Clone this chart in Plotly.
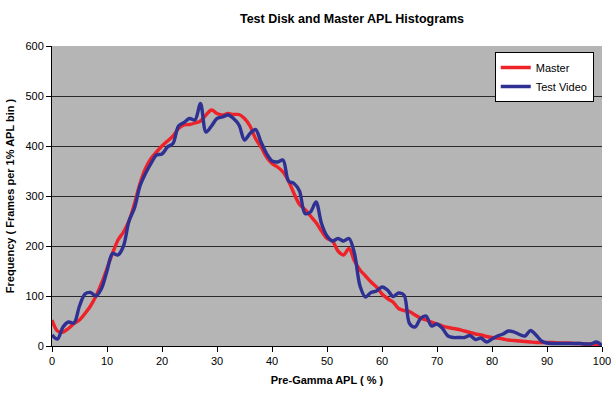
import plotly.graph_objects as go

apl = list(range(0, 101))

master = [52, 30, 28, 35, 45, 52, 65, 80, 100, 125,
          155, 185, 212, 228, 250, 285, 325, 355, 375, 388,
          400, 410, 420, 435, 442, 443, 446, 450, 462, 472,
          465, 462, 465, 463, 463, 455, 440, 415, 398, 378,
          365, 358, 348, 330, 305, 283, 273, 260, 247, 230,
          215, 210, 190, 182, 195, 170, 152, 140, 128, 118,
          104, 95, 88, 75, 71, 69, 62, 56, 52, 48,
          44, 40, 37, 35, 33, 30, 27, 24, 22, 19,
          17, 16, 14, 12, 11, 10, 9, 8, 7, 7,
          7, 7, 6, 6, 6, 5, 5, 4, 4, 3, 1]

test_video = [22, 14, 38, 48, 46, 80, 104, 107, 100, 115,
              150, 185, 182, 200, 250, 276, 320, 345, 365, 382,
              384, 398, 405, 440, 447, 455, 452, 485, 428, 440,
              455, 458, 462, 455, 442, 412, 425, 433, 408, 385,
              370, 368, 372, 330, 325, 310, 265, 268, 288, 245,
              220, 210, 215, 210, 215, 185, 120, 98, 107, 110,
              118, 112, 99, 106, 102, 45, 38, 55, 60, 40,
              44, 35, 20, 17, 17, 17, 21, 13, 16, 8,
              14, 20, 24, 30, 28, 23, 20, 31, 22, 10,
              6, 5, 5, 5, 5, 5, 5, 4, 4, 8, 1]

x_ticks = [0, 10, 20, 30, 40, 50, 60, 70, 80, 90, 100]
y_ticks = [0, 100, 200, 300, 400, 500, 600]

fig = go.Figure()
fig.add_trace(go.Scatter(x=apl, y=master, name="Master", mode="lines",
                         line=dict(color="#ee2229", width=3.4, shape="spline", smoothing=0.9)))
fig.add_trace(go.Scatter(x=apl, y=test_video, name="Test Video", mode="lines",
                         line=dict(color="#2e3192", width=3.4, shape="spline", smoothing=0.9)))

font_family = "Liberation Sans, Arial, sans-serif"

fig.update_layout(
    width=611, height=395,
    margin=dict(l=52, r=9, t=46, b=49, autoexpand=False),
    paper_bgcolor="white",
    plot_bgcolor="#b5b5b5",
    font=dict(family=font_family, color="black"),
    title=dict(text="<b>Test Disk and Master APL Histograms</b>", x=352/611, xanchor="center",
               y=1 - 19/395, yanchor="middle", font=dict(size=12.5)),
    showlegend=True,
    legend=dict(x=0.985, y=0.98, xanchor="right", yanchor="top",
                bgcolor="white", bordercolor="black", borderwidth=1,
                font=dict(size=11), tracegroupgap=0, itemwidth=30),
    xaxis=dict(range=[0, 100], tickvals=x_ticks, showgrid=False, zeroline=False,
               showline=True, linecolor="black", linewidth=1, ticks="outside",
               ticklen=5, tickcolor="black", ticklabeloverflow="allow", automargin=False,
               tickfont=dict(size=11, family=font_family),
               title=dict(text="<b>Pre-Gamma APL ( % )</b>", font=dict(size=11), standoff=10),
               tickprefix="<b>", ticksuffix="</b>"),
    yaxis=dict(range=[0, 600], tickvals=y_ticks, showgrid=True, gridcolor="#2a2a2a",
               gridwidth=1.3, zeroline=False, showline=True, linecolor="black", linewidth=1,
               ticks="outside", ticklen=5, tickcolor="black", automargin=False,
               tickfont=dict(size=11, family=font_family),
               tickprefix="<b>", ticksuffix="</b>",
               title=dict(text="<b>Frequency ( Frames per 1% APL bin )</b>", font=dict(size=11), standoff=8)),
)

fig.write_html("out.html")
